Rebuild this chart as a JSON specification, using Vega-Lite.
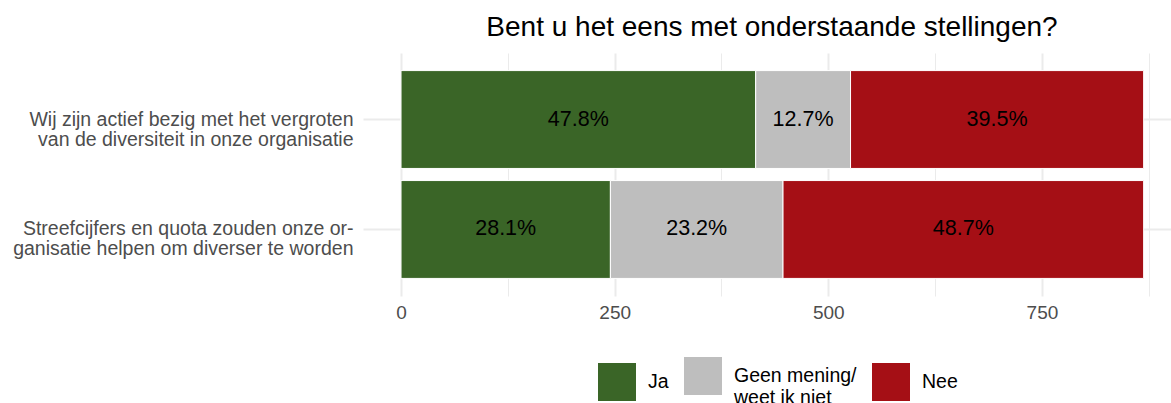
{
  "$schema": "https://vega.github.io/schema/vega-lite/v6.json",
  "width": 808,
  "height": 243,
  "autosize": {"type": "none"},
  "padding": {"left": 363, "top": 53, "right": 0, "bottom": 107},
  "background": "white",
  "config": {"view": {"stroke": null}},
  "title": {
    "text": "Bent u het eens met onderstaande stellingen?",
    "fontSize": 28,
    "font": "Liberation Sans",
    "fontWeight": "normal",
    "color": "#000000",
    "anchor": "middle",
    "frame": "group",
    "offset": 11,
    "dx": 5
  },
  "data": {
    "values": [
      {"stelling": "Wij zijn actief bezig met het vergroten|van de diversiteit in onze organisatie", "antwoord": "Ja", "volgorde": 1, "aantal": 415, "label": "47.8%"},
      {"stelling": "Wij zijn actief bezig met het vergroten|van de diversiteit in onze organisatie", "antwoord": "Geen mening/ weet ik niet", "volgorde": 2, "aantal": 111, "label": "12.7%"},
      {"stelling": "Wij zijn actief bezig met het vergroten|van de diversiteit in onze organisatie", "antwoord": "Nee", "volgorde": 3, "aantal": 343, "label": "39.5%"},
      {"stelling": "Streefcijfers en quota zouden onze or-|ganisatie helpen om diverser te worden", "antwoord": "Ja", "volgorde": 1, "aantal": 245, "label": "28.1%"},
      {"stelling": "Streefcijfers en quota zouden onze or-|ganisatie helpen om diverser te worden", "antwoord": "Geen mening/ weet ik niet", "volgorde": 2, "aantal": 202, "label": "23.2%"},
      {"stelling": "Streefcijfers en quota zouden onze or-|ganisatie helpen om diverser te worden", "antwoord": "Nee", "volgorde": 3, "aantal": 422, "label": "48.7%"}
    ]
  },
  "encoding": {
    "y": {
      "field": "stelling",
      "type": "nominal",
      "sort": [
        "Wij zijn actief bezig met het vergroten|van de diversiteit in onze organisatie",
        "Streefcijfers en quota zouden onze or-|ganisatie helpen om diverser te worden"
      ],
      "scale": {"paddingInner": 0.11, "paddingOuter": 0.16},
      "axis": {
        "title": null,
        "labelExpr": "split(datum.label, '|')",
        "labelFontSize": 19.5,
        "labelFont": "Liberation Sans",
        "labelColor": "#4d4d4d",
        "labelPadding": 10,
        "labelLineHeight": 20,
        "labelLimit": 400,
        "ticks": false,
        "domain": false,
        "grid": true,
        "gridColor": "#ebebeb",
        "gridWidth": 2,
        "bandPosition": 0.5
      }
    }
  },
  "layer": [
    {
      "mark": {"type": "bar", "stroke": "white", "strokeWidth": 1},
      "encoding": {
        "x": {
          "field": "aantal",
          "type": "quantitative",
          "stack": "zero",
          "scale": {"domain": [-44.5, 901], "nice": false, "zero": false},
          "axis": {
            "title": null,
            "values": [0, 125, 250, 375, 500, 625, 750, 875],
            "labelExpr": "datum.value % 250 == 0 ? datum.label : ''",
            "format": "d",
            "gridColor": "#ebebeb",
            "gridWidth": {"condition": {"test": "datum.value % 250 == 0", "value": 2}, "value": 1},
            "ticks": false,
            "domain": false,
            "labelFontSize": 19,
            "labelFont": "Liberation Sans",
            "labelColor": "#4d4d4d",
            "labelPadding": 7,
            "labelOverlap": false,
            "labelFlush": false
          }
        },
        "color": {
          "field": "antwoord",
          "type": "nominal",
          "scale": {
            "domain": ["Ja", "Geen mening/ weet ik niet", "Nee"],
            "range": ["#3a6527", "#bebebe", "#a50f15"]
          },
          "legend": {
            "title": null,
            "orient": "none",
            "legendX": 235,
            "legendY": 304,
            "direction": "horizontal",
            "symbolType": "square",
            "symbolSize": 1444,
            "symbolStrokeWidth": 0,
            "symbolOpacity": 1,
            "labelFontSize": 19.5,
            "labelFont": "Liberation Sans",
            "labelColor": "#000000",
            "labelOffset": 12,
            "columnPadding": 15,
            "labelLimit": 300,
            "labelExpr": "datum.label == 'Geen mening/ weet ik niet' ? ['Geen mening/', 'weet ik niet'] : datum.label"
          }
        },
        "order": {"field": "volgorde"}
      }
    },
    {
      "mark": {"type": "text", "fontSize": 21.5, "font": "Liberation Sans", "color": "#000000"},
      "encoding": {
        "x": {"field": "aantal", "type": "quantitative", "stack": "zero", "bandPosition": 0.5},
        "detail": {"field": "antwoord"},
        "order": {"field": "volgorde"},
        "text": {"field": "label"}
      }
    }
  ]
}
